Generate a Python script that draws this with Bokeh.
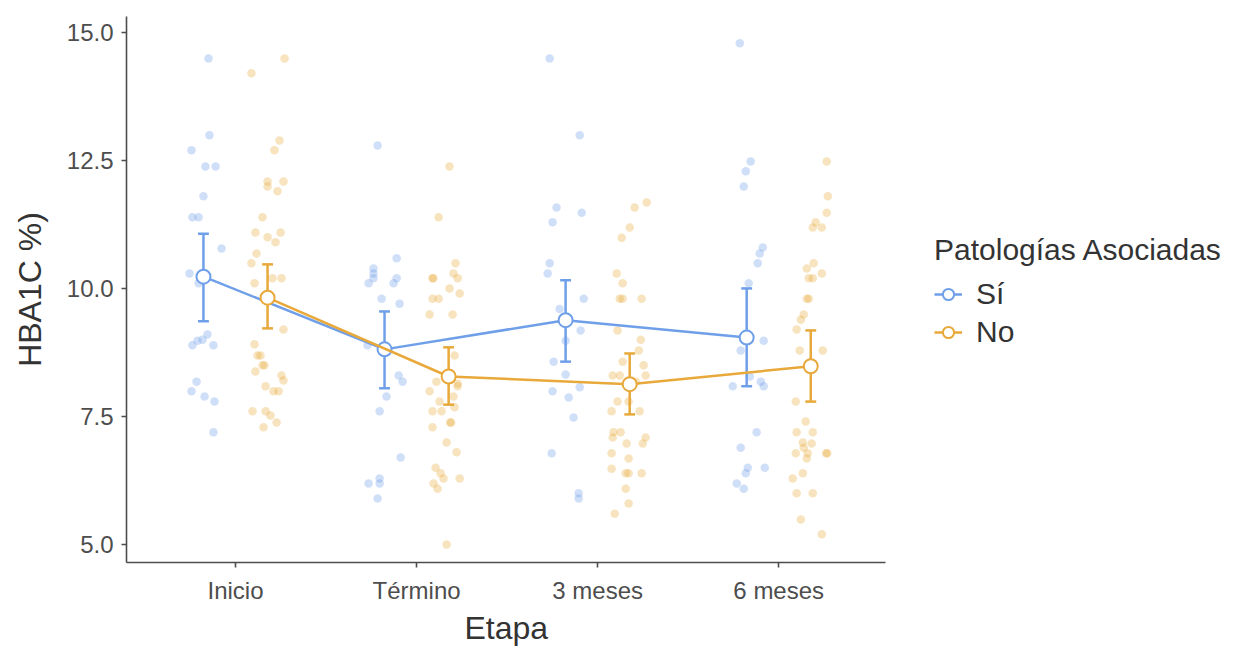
from bokeh.plotting import figure
from bokeh.models import Range1d, FixedTicker, Legend, LegendItem, Title
from bokeh.embed import file_html
from bokeh.resources import INLINE

# ---------------- data ----------------
etapas = ["Inicio", "Término", "3 meses", "6 meses"]
grupos = ["Sí", "No"]

# individual observations (value, jitter offset in category units) per stage
si_inicio = [14.49, 12.99, 12.70, 12.38, 12.38, 11.80, 11.39, 11.39, 10.78, 10.29, 10.10,
             8.89, 8.98, 9.00, 9.10, 8.89, 8.18, 7.99, 7.89, 7.79, 7.19]
si_inicio_j = [-0.149, -0.144, -0.243, -0.166, -0.110, -0.177, -0.238, -0.204, -0.077, -0.254, -0.204,
               -0.238, -0.210, -0.182, -0.155, -0.122, -0.215, -0.243, -0.171, -0.116, -0.122]
no_inicio = [14.49, 14.20, 12.89, 12.70, 12.09, 12.09, 11.99, 11.90, 11.39, 11.09, 11.09, 11.00,
             10.90, 10.68, 10.49, 10.10, 10.20, 10.20, 9.20, 8.91, 8.69, 8.69, 8.50, 8.50, 8.38,
             8.30, 8.20, 8.09, 7.99, 7.99, 7.60, 7.60, 7.52, 7.38, 7.29]
no_inicio_j = [0.271, 0.088, 0.243, 0.215, 0.177, 0.265, 0.177, 0.232, 0.149, 0.110, 0.249, 0.177,
               0.221, 0.116, 0.088, 0.105, 0.204, 0.254, 0.265, 0.105, 0.122, 0.138, 0.149, 0.160, 0.110,
               0.254, 0.265, 0.166, 0.210, 0.238, 0.094, 0.166, 0.193, 0.227, 0.155]

si_termino = [12.79, 10.59, 10.39, 10.29, 10.20, 10.10, 10.20, 10.10, 9.80, 9.70, 8.89, 8.30,
              8.18, 7.89, 7.60, 6.70, 6.19, 6.29, 6.19, 5.90]
si_termino_j = [-0.215, -0.110, -0.238, -0.238, -0.238, -0.265, -0.110, -0.127, -0.193, -0.094, -0.271, -0.099,
                -0.077, -0.166, -0.204, -0.088, -0.265, -0.204, -0.204, -0.215]
no_termino = [12.38, 11.39, 10.49, 10.29, 10.20, 10.20, 10.20, 10.00, 9.90, 9.80, 9.80, 9.49, 9.49,
              8.69, 8.18, 8.14, 8.09, 7.99, 7.89, 7.79, 7.60, 7.60, 7.68, 7.38, 7.38, 7.29, 6.99,
              6.80, 6.50, 6.39, 6.29, 6.29, 6.19, 6.09, 5.00]
no_termino_j = [0.182, 0.122, 0.215, 0.204, 0.227, 0.088, 0.092, 0.182, 0.238, 0.088, 0.122, 0.072, 0.199,
                0.210, 0.110, 0.227, 0.227, 0.072, 0.204, 0.127, 0.088, 0.138, 0.210, 0.185, 0.191, 0.088, 0.166,
                0.221, 0.105, 0.133, 0.149, 0.238, 0.094, 0.116, 0.166]

si_3m = [14.49, 12.99, 11.58, 11.48, 11.29, 10.49, 10.29, 9.80, 9.60, 9.18, 8.98, 8.57, 8.32,
         8.07, 7.99, 7.87, 7.48, 6.78, 6.00, 5.90]
si_3m_j = [-0.265, -0.099, -0.227, -0.088, -0.249, -0.265, -0.276, -0.077, -0.210, -0.094, -0.177, -0.243, -0.177,
           -0.099, -0.249, -0.160, -0.133, -0.254, -0.105, -0.105]
no_3m = [11.68, 11.58, 11.19, 10.99, 10.29, 10.10, 9.80, 9.80, 9.80, 9.18, 9.00, 8.79, 8.57, 8.50,
         8.30, 8.30, 8.30, 8.18, 7.79, 7.79, 7.60, 7.60, 7.19, 7.19, 7.09, 7.09, 6.97, 6.97, 6.78,
         6.68, 6.48, 6.39, 6.39, 6.39, 6.09, 5.80, 5.60]
no_3m_j = [0.271, 0.204, 0.177, 0.133, 0.105, 0.138, 0.122, 0.138, 0.243, 0.110, 0.238, 0.227, 0.138, 0.254,
           0.083, 0.122, 0.265, 0.210, 0.110, 0.171, 0.077, 0.232, 0.088, 0.127, 0.083, 0.265, 0.249, 0.160, 0.077,
           0.171, 0.077, 0.155, 0.171, 0.243, 0.155, 0.171, 0.094]

si_6m = [14.79, 12.48, 12.29, 11.99, 10.80, 10.68, 10.49, 10.10, 8.98, 8.79, 8.28, 8.18, 8.09,
         8.09, 7.19, 6.89, 6.50, 6.39, 6.50, 6.19, 6.09]
si_6m_j = [-0.215, -0.155, -0.182, -0.193, -0.088, -0.105, -0.116, -0.166, -0.083, -0.210, -0.160, -0.099, -0.083,
           -0.254, -0.122, -0.210, -0.171, -0.182, -0.077, -0.232, -0.193]
no_6m = [12.48, 11.80, 11.48, 11.29, 11.19, 11.19, 10.49, 10.39, 10.29, 10.20, 10.20, 9.80, 9.80,
         9.49, 9.39, 9.20, 8.79, 8.79, 7.79, 7.40, 7.19, 7.19, 6.99, 6.97, 6.89, 6.78, 6.78, 6.78,
         6.78, 6.68, 6.39, 6.29, 6.00, 6.00, 5.49, 5.20]
no_6m_j = [0.265, 0.271, 0.265, 0.204, 0.188, 0.238, 0.193, 0.155, 0.238, 0.166, 0.188, 0.155, 0.166,
           0.138, 0.122, 0.099, 0.116, 0.243, 0.094, 0.149, 0.099, 0.188, 0.133, 0.182, 0.138, 0.094, 0.160, 0.262,
           0.268, 0.155, 0.133, 0.077, 0.099, 0.188, 0.122, 0.238]

# group means and error-bar limits, per stage
si_media = [10.23, 8.81, 9.38, 9.04]
si_inf = [9.36, 8.05, 8.57, 8.09]
si_sup = [11.07, 9.55, 10.16, 10.00]
no_media = [9.82, 8.28, 8.13, 8.48]
no_inf = [9.22, 7.73, 7.54, 7.79]
no_sup = [10.47, 8.85, 8.73, 9.18]

y_ticks = [5.0, 7.5, 10.0, 12.5, 15.0]

# ---------------- styling ----------------
AZUL = "#6f9fe9"
NARANJA = "#e8a93a"
FONT = "Liberation Sans"
DODGE = 0.177
CAP = 0.03
X_LO, X_HI = 0.398, 4.59          # extent of the drawn x axis
X_VIEW_HI = 6.495                  # view extends right to leave room for the legend

p = figure(width=1230, height=646, output_backend="svg", toolbar_location=None,
           x_range=Range1d(X_LO, X_VIEW_HI), y_range=Range1d(4.648, 15.31),
           min_border_left=126, min_border_top=16, min_border_bottom=76, min_border_right=0)
p.outline_line_color = None
p.grid.grid_line_color = None
p.background_fill_color = "white"

xpos = list(range(1, len(etapas) + 1))

groups = [
    (AZUL, -DODGE, [si_inicio, si_termino, si_3m, si_6m], [si_inicio_j, si_termino_j, si_3m_j, si_6m_j],
     si_media, si_inf, si_sup, grupos[0]),
    (NARANJA, DODGE, [no_inicio, no_termino, no_3m, no_6m], [no_inicio_j, no_termino_j, no_3m_j, no_6m_j],
     no_media, no_inf, no_sup, grupos[1]),
]

for color, off, vals, jits, media, inf, sup, label in groups:
    xs, ys = [], []
    for i, (v, j) in enumerate(zip(vals, jits)):
        xs += [xpos[i] + jj for jj in j]
        ys += v
    p.scatter(xs, ys, size=8.5, fill_color=color, line_color=None, fill_alpha=0.33)

legend_items = []
for color, off, vals, jits, media, inf, sup, label in groups:
    mx = [x + off for x in xpos]
    p.segment(x0=mx, y0=inf, x1=mx, y1=sup, line_color=color, line_width=2.5)
    p.segment(x0=[x - CAP for x in mx], y0=inf, x1=[x + CAP for x in mx], y1=inf,
              line_color=color, line_width=2.5)
    p.segment(x0=[x - CAP for x in mx], y0=sup, x1=[x + CAP for x in mx], y1=sup,
              line_color=color, line_width=2.5)
    ln = p.line(mx, media, line_color=color, line_width=2.5)
    pt = p.scatter(mx, media, size=14, fill_color="white", line_color=color, line_width=2)
    legend_items.append(LegendItem(label=label, renderers=[ln, pt]))

# axes
for ax in (p.xaxis[0], p.yaxis[0]):
    ax.axis_line_color = "#4d4d4d"
    ax.axis_line_width = 1.6
    ax.major_tick_line_color = "#4d4d4d"
    ax.major_tick_line_width = 1.6
    ax.major_tick_out = 5
    ax.major_tick_in = 0
    ax.minor_tick_line_color = None
    ax.major_label_text_font = FONT
    ax.major_label_text_font_size = "24px"
    ax.major_label_text_color = "#4d4d4d"
    ax.axis_label_text_font = FONT
    ax.axis_label_text_font_size = "32px"
    ax.axis_label_text_font_style = "normal"
    ax.axis_label_text_color = "#333333"

p.xaxis.bounds = (X_LO, X_HI)
p.xaxis.ticker = FixedTicker(ticks=xpos)
p.xaxis.major_label_overrides = {x: e for x, e in zip(xpos, etapas)}
p.xaxis.major_label_standoff = 9

# x-axis title centred under the drawn axis
p.add_layout(Title(text="Etapa", align="left", offset=338, text_font=FONT,
                   text_font_size="32px", text_font_style="normal", text_color="#333333",
                   standoff=2), "below")

p.yaxis.ticker = FixedTicker(ticks=y_ticks)
p.yaxis.major_label_overrides = {t: f"{t:.1f}" for t in y_ticks}
p.yaxis.axis_label = "HBA1C %)"
p.yaxis.major_label_standoff = 8
p.yaxis.axis_label_standoff = 16

legend = Legend(items=legend_items, location=(808, 213), title="Patologías Asociadas",
                title_text_font=FONT, title_text_font_size="30px", title_text_color="#333333",
                title_text_font_style="normal",
                label_text_font=FONT, label_text_font_size="30px", label_text_color="#333333",
                border_line_color=None, background_fill_alpha=0, margin=0, padding=8,
                glyph_width=28, glyph_height=34, label_standoff=14, spacing=4, title_standoff=10)
p.add_layout(legend, "center")

open("out.html", "w").write(file_html(p, INLINE))
